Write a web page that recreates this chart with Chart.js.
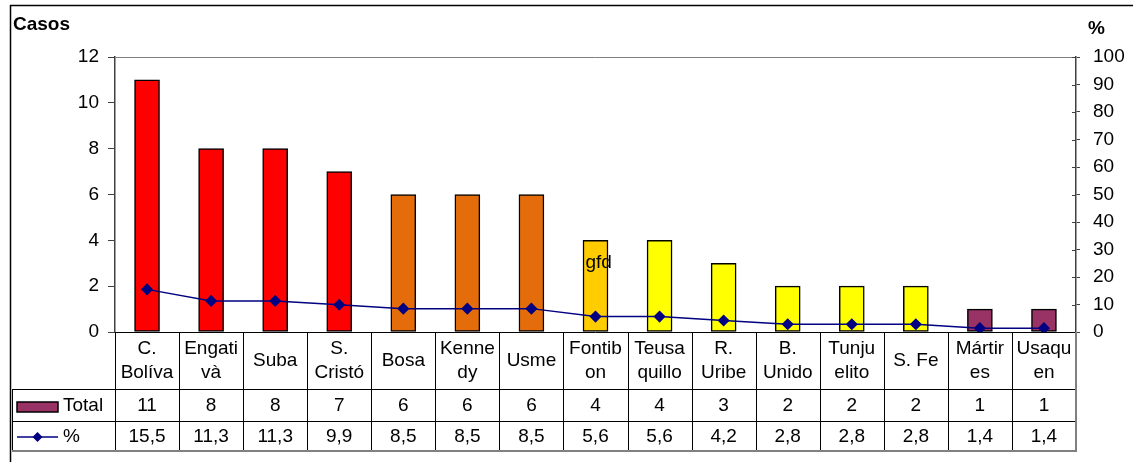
<!DOCTYPE html>
<html>
<head>
<meta charset="utf-8">
<script src="https://cdn.jsdelivr.net/npm/chart.js@4.4.0/dist/chart.umd.min.js"></script>
<style>
  html, body { margin: 0; padding: 0; background: #fff; }
</style>
</head>
<body>
<canvas id="casos__chart" width="1133" height="462"></canvas>
<script>
// Casos por localidad, with percentage line and data table underneath

const districts = [
  ['C.', 'Bolíva'], ['Engati', 'và'], 'Suba', ['S.', 'Cristó'], 'Bosa',
  ['Kenne', 'dy'], 'Usme', ['Fontib', 'on'], ['Teusa', 'quillo'], ['R.', 'Uribe'],
  ['B.', 'Unido'], ['Tunju', 'elito'], 'S. Fe', ['Mártir', 'es'], ['Usaqu', 'en']
];
const totals = [11, 8, 8, 7, 6, 6, 6, 4, 4, 3, 2, 2, 2, 1, 1];
const percents = [15.5, 11.3, 11.3, 9.9, 8.5, 8.5, 8.5, 5.6, 5.6, 4.2, 2.8, 2.8, 2.8, 1.4, 1.4];
const barNotes = ['', '', '', '', '', '', '', 'gfd', '', '', '', '', '', '', ''];

const barColors = [
  '#FF0000', '#FF0000', '#FF0000', '#FF0000',
  '#E46C0A', '#E46C0A', '#E46C0A',
  '#FFCC00',
  '#FFFF00', '#FFFF00', '#FFFF00', '#FFFF00', '#FFFF00',
  '#993366', '#993366'
];

const FONT = 'Arial, "Liberation Sans", sans-serif';
const AXIS = '#404040';

function line(ctx, x1, y1, x2, y2) {
  ctx.beginPath();
  ctx.moveTo(x1, y1);
  ctx.lineTo(x2, y2);
  ctx.stroke();
}

// frame, titles, table under the x axis and the note on the Fontibon bar
const tablePlugin = {
  id: 'dataTable',
  afterDraw(chart) {
    const ctx = chart.ctx;
    const area = chart.chartArea;
    const n = districts.length;
    const step = (area.right - area.left) / n;
    const rowTop = area.bottom;
    const row1 = 389, row2 = 421, row3 = 451;
    const tableLeft = 12;

    ctx.save();

    // outer frame
    ctx.strokeStyle = '#000';
    ctx.lineWidth = 1.5;
    line(ctx, 10, 5.5, chart.width, 5.5);
    line(ctx, 10.5, 5, 10.5, chart.height);

    // axis titles
    ctx.fillStyle = '#000';
    ctx.font = 'bold 19px ' + FONT;
    ctx.textBaseline = 'middle';
    ctx.textAlign = 'left';
    ctx.fillText('Casos', 13, 25);
    ctx.fillText('%', 1088, 29);

    // top border of plot area
    ctx.strokeStyle = '#808080';
    ctx.lineWidth = 1;
    line(ctx, area.left, area.top + 0.5, area.right, area.top + 0.5);

    // inner half of the right axis ticks
    const y1 = chart.scales.y1;
    ctx.strokeStyle = AXIS;
    y1.ticks.forEach(t => {
      const py = Math.round(y1.getPixelForValue(t.value)) + 0.5;
      line(ctx, area.right - 4, py, area.right, py);
    });

    // note on the bar
    const bars = chart.getDatasetMeta(0).data;
    ctx.font = '19px ' + FONT;
    ctx.fillStyle = '#000';
    barNotes.forEach((t, i) => {
      if (t) ctx.fillText(t, bars[i].x - 10, bars[i].y + 22);
    });

    // table grid
    ctx.strokeStyle = '#000';
    ctx.lineWidth = 1;
    line(ctx, area.left, rowTop + 0.5, area.right, rowTop + 0.5);
    line(ctx, tableLeft, row1 + 0.5, area.right, row1 + 0.5);
    line(ctx, tableLeft, row2 + 0.5, area.right, row2 + 0.5);
    line(ctx, tableLeft + 0.5, row1, tableLeft + 0.5, row3);
    for (let i = 0; i < n; i++) {
      const x = Math.round(area.left + i * step) + 0.5;
      line(ctx, x, rowTop, x, row3);
    }
    ctx.strokeStyle = '#808080';
    ctx.lineWidth = 2;
    line(ctx, tableLeft, row3, area.right + 1, row3);
    line(ctx, area.right, rowTop, area.right, row3 + 1);

    // legend keys
    ctx.fillStyle = '#993366';
    ctx.fillRect(17, 402, 41, 10);
    ctx.strokeStyle = '#000';
    ctx.lineWidth = 1.5;
    ctx.strokeRect(17, 402, 41, 10);

    const keyY = 437;
    ctx.strokeStyle = '#000080';
    ctx.lineWidth = 1.5;
    line(ctx, 17, keyY, 58, keyY);
    ctx.fillStyle = '#000080';
    ctx.beginPath();
    ctx.moveTo(37.5, keyY - 5);
    ctx.lineTo(42.5, keyY);
    ctx.lineTo(37.5, keyY + 5);
    ctx.lineTo(32.5, keyY);
    ctx.closePath();
    ctx.fill();

    ctx.fillStyle = '#000';
    ctx.font = '19px ' + FONT;
    ctx.textAlign = 'left';
    ctx.fillText('Total', 63, (row1 + row2) / 2 + 1);
    ctx.fillText('%', 63, (row2 + row3) / 2 + 1);

    // table values
    ctx.textAlign = 'center';
    for (let i = 0; i < n; i++) {
      const cx = area.left + (i + 0.5) * step;
      ctx.fillText(String(totals[i]), cx, (row1 + row2) / 2 + 1);
      ctx.fillText(percents[i].toFixed(1).replace('.', ','), cx, (row2 + row3) / 2 + 1);
    }

    ctx.restore();
  }
};

const data = {
  labels: districts,
  datasets: [{
    type: 'bar',
    label: 'Total',
    data: totals,
    yAxisID: 'y',
    backgroundColor: barColors,
    borderColor: '#000',
    borderWidth: 1.5,
    borderSkipped: false,
    barThickness: 25,
    order: 2
  }, {
    type: 'line',
    label: '%',
    data: percents,
    yAxisID: 'y1',
    borderColor: '#000080',
    borderWidth: 1.5,
    pointStyle: 'rectRot',
    pointRadius: 5,
    pointBackgroundColor: '#000080',
    pointBorderColor: '#000080',
    tension: 0,
    order: 1
  }]
};

const config = {
  data,
  options: {
    responsive: false,
    animation: false,
    devicePixelRatio: 1,
    layout: { padding: { top: 57, left: 0, right: 0, bottom: 0 } },
    plugins: {
      legend: { display: false },
      tooltip: { enabled: false }
    },
    scales: {
      x: {
        offset: true,
        grid: { display: false, drawTicks: false },
        border: { display: false },
        ticks: {
          autoSkip: false,
          maxRotation: 0,
          minRotation: 0,
          crossAlign: 'center',
          padding: 17,
          color: '#000',
          font: { family: FONT, size: 19, lineHeight: 1.27 }
        },
        afterFit: s => { s.height = 130; }
      },
      y: {
        position: 'left',
        min: 0,
        max: 12,
        ticks: {
          stepSize: 2,
          padding: 9,
          color: '#000',
          font: { family: FONT, size: 19 }
        },
        grid: { drawOnChartArea: false, tickLength: 7, color: AXIS },
        border: { color: AXIS, width: 1.5 },
        afterFit: s => { s.width = 115; }
      },
      y1: {
        position: 'right',
        min: 0,
        max: 100,
        ticks: {
          stepSize: 10,
          padding: 13,
          color: '#000',
          font: { family: FONT, size: 19 }
        },
        grid: { drawOnChartArea: false, tickLength: 4, color: AXIS },
        border: { color: AXIS, width: 1.5 },
        afterFit: s => { s.width = 57; }
      }
    }
  },
  plugins: [tablePlugin]
};

const casosChart = new Chart(
  document.getElementById('casos__chart'),
  config
);
</script>
</body>
</html>
